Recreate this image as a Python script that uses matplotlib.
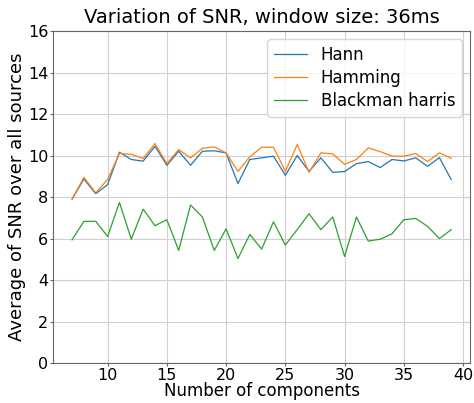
import matplotlib
matplotlib.use('Agg')
import matplotlib.pyplot as plt
import numpy as np

n_comp = list(range(7, 40))

hann = [7.9, 8.87, 8.16, 8.6, 10.16, 9.81, 9.73, 10.45, 9.53, 10.21, 9.53,
        10.21, 10.23, 10.13, 8.65, 9.81, 9.89, 9.97, 9.05, 10.0, 9.24, 9.89,
        9.19, 9.23, 9.61, 9.71, 9.42, 9.81, 9.74, 9.89, 9.48, 9.9, 8.84]
hamming = [7.9, 8.95, 8.2, 8.85, 10.1, 10.06, 9.86, 10.58, 9.61, 10.29, 9.89,
           10.35, 10.42, 10.13, 9.24, 9.94, 10.4, 10.4, 9.24, 10.53, 9.19, 10.13,
           10.08, 9.58, 9.81, 10.37, 10.19, 9.97, 9.97, 10.1, 9.71, 10.13, 9.87]
blackman = [5.94, 6.83, 6.83, 6.1, 7.74, 5.97, 7.42, 6.62, 6.91, 5.43, 7.62,
            7.04, 5.43, 6.47, 5.04, 6.2, 5.49, 6.81, 5.69, 6.43, 7.2, 6.43,
            7.04, 5.14, 7.04, 5.88, 5.97, 6.23, 6.91, 6.97, 6.59, 6.0, 6.43]

fig = plt.figure(figsize=(4.74, 4.03), dpi=100)
ax = fig.add_axes([0.112, 0.099, 0.88, 0.824])

ax.plot(n_comp, hann, color='tab:blue', lw=0.9, label='Hann')
ax.plot(n_comp, hamming, color='tab:orange', lw=0.9, label='Hamming')
ax.plot(n_comp, blackman, color='tab:green', lw=0.9, label='Blackman harris')

ax.set_ylim(0, 16)
ax.set_yticks(np.arange(0, 17, 2))
ax.set_xticks([10, 15, 20, 25, 30, 35, 40])
ax.grid(True, color='#d0d0d0', lw=0.8)
ax.set_axisbelow(True)
for s in ax.spines.values():
    s.set_color('#666666')
ax.tick_params(labelsize=11.5, length=2, pad=1.5, color='#666666')

ax.set_title('Variation of SNR, window size: 36ms', fontsize=14)
ax.set_xlabel('Number of components', fontsize=12, labelpad=-1)
ax.set_ylabel('Average of SNR over all sources', fontsize=13, labelpad=1)
ax.legend(loc='upper right', fontsize=12, labelspacing=0.3)

fig.savefig('out.png', dpi=100)
